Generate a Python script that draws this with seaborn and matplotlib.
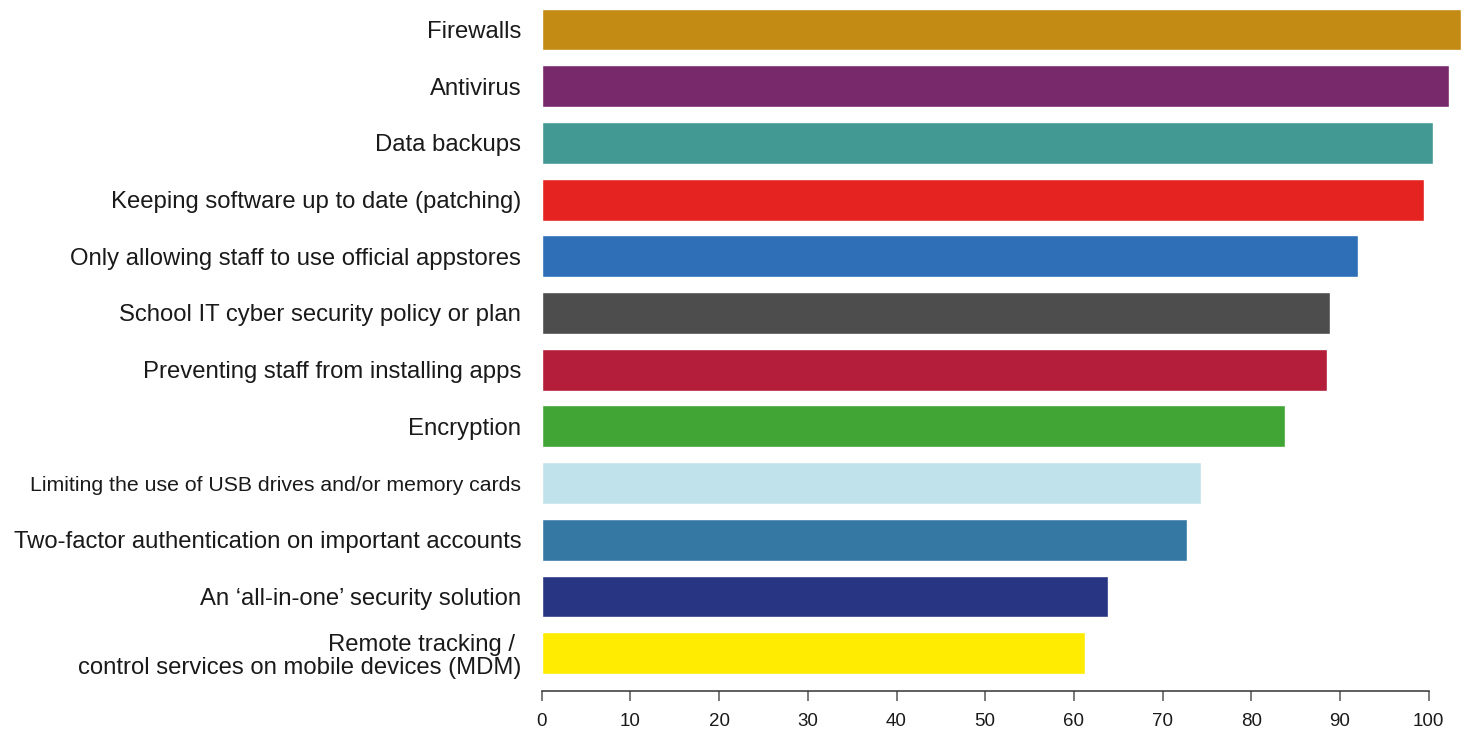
import matplotlib
matplotlib.use("Agg")
import matplotlib.pyplot as plt
import seaborn as sns
import pandas as pd

# Share of schools using each cyber security measure
measures = [
    "Firewalls",
    "Antivirus",
    "Data backups",
    "Keeping software up to date (patching)",
    "Only allowing staff to use official appstores",
    "School IT cyber security policy or plan",
    "Preventing staff from installing apps",
    "Encryption",
    "Limiting the use of USB drives and/or memory cards",
    "Two-factor authentication on important accounts",
    "An \u2018all-in-one\u2019 security solution",
    "Remote tracking / \ncontrol services on mobile devices (MDM)",
]
values = [103.6, 102.3, 100.5, 99.5, 92.0, 88.9, 88.5, 83.8, 74.3, 72.8, 63.8, 61.2]
bar_colors = [
    "#C38A14", "#78296B", "#429893", "#E52421", "#2E6FB7", "#4D4D4D",
    "#B41E3A", "#41A535", "#C0E2EA", "#3578A3", "#283583", "#FFEC00",
]
x_ticks = [0, 10, 20, 30, 40, 50, 60, 70, 80, 90, 100]

df = pd.DataFrame({"measure": measures, "value": values})

sns.set_theme(style="white")
plt.rcParams["font.family"] = ["Liberation Sans", "DejaVu Sans"]

W, H = 1470, 736
fig = plt.figure(figsize=(W / 100, H / 100), dpi=100)
x0_px, px_per_unit = 541.7, 8.87
x_max = 104.5
ax = fig.add_axes([x0_px / W, 1 - 691 / H, x_max * px_per_unit / W, 691 / H])

sns.barplot(
    data=df, y="measure", x="value", hue="measure", palette=bar_colors,
    order=measures, hue_order=measures, orient="h", width=0.74,
    saturation=1, legend=False, ax=ax,
)

ax.set_xlim(0, x_max)
ax.set_ylim(11.667, -0.52)
ax.set_xlabel("")
ax.set_ylabel("")

for side in ("top", "right", "left"):
    ax.spines[side].set_visible(False)
ax.spines["bottom"].set_bounds(0, 100)
ax.spines["bottom"].set_color("#333333")
ax.spines["bottom"].set_linewidth(1.1)

ax.set_xticks(x_ticks)
ax.set_xticklabels([str(t) for t in x_ticks])
ax.tick_params(axis="x", direction="out", length=7.5, width=1.1, color="#555555",
               labelsize=13.5, labelcolor="#1a1a1a", pad=8, bottom=True)
ax.tick_params(axis="y", length=0, pad=14.8, labelsize=17.2, labelcolor="#1a1a1a")

for lbl in ax.get_yticklabels():
    if lbl.get_text().startswith("Limiting"):
        lbl.set_fontsize(15.3)
    lbl.set_linespacing(1.1)

fig.savefig("out.png", dpi=100, facecolor="white")
